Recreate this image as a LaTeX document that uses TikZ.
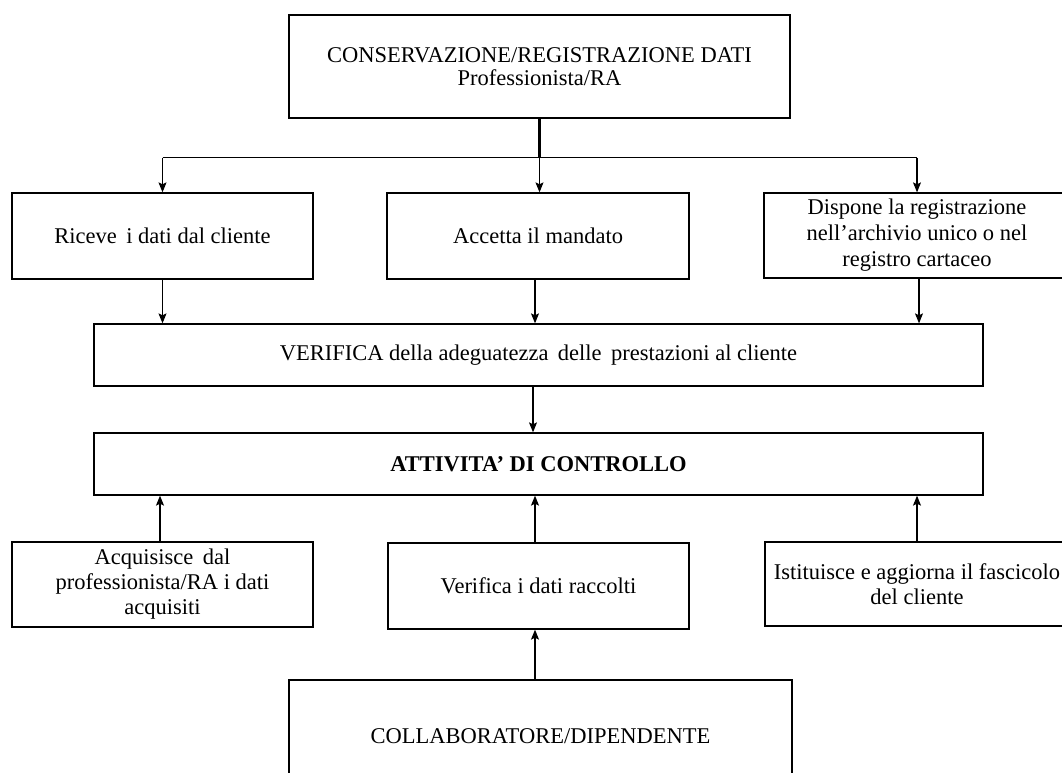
\documentclass[tikz,border=0pt]{standalone}
\usepackage{fontspec}
\setmainfont{Liberation Serif}
\usetikzlibrary{arrows.meta}
\begin{document}
\begin{tikzpicture}[x=1pt,y=-1pt,
  box/.style={draw, line width=1.3pt, inner sep=0pt, align=center,
    font=\fontsize{22.5}{25}\selectfont},
  link/.style={line width=1.1pt, -{Stealth[length=10pt,width=8pt,inset=2pt]}},
  bus/.style={line width=1.1pt}]
\fill[white] (0,0) rectangle (1062,773);
\useasboundingbox (0,0) rectangle (1062,773);
\clip (0,0) rectangle (1062,773);

% header
\node[box, minimum width=501pt, minimum height=103pt,
  font=\fontsize{22.5}{23.5}\selectfont] (top) at (539.5,66.5)
  {CONSERVAZIONE/REGISTRAZIONE DATI\\Professionista/RA};

% first row
\node[box, minimum width=301pt, minimum height=86pt] (riceve) at (162.5,236)
  {Riceve \,i dati dal cliente};
\node[box, minimum width=302pt, minimum height=86pt] (accetta) at (538,236)
  {Accetta il mandato};
\node[box, minimum width=312pt, minimum height=85pt,
  font=\fontsize{22.5}{26}\selectfont] (dispone) at (920,235.5)
  {\hspace*{-6pt}Dispone la registrazione\\\hspace*{-6pt}nell’archivio unico o nel\\\hspace*{-6pt}registro cartaceo};

% central bars
\node[box, minimum width=889pt, minimum height=62pt] (verifica) at (538.5,355)
  {VERIFICA della adeguatezza \,delle \,prestazioni al cliente};
\node[box, minimum width=889pt, minimum height=62pt] (attivita) at (538.5,464)
  {\bfseries ATTIVITA’ DI CONTROLLO};

% second row
\node[box, minimum width=301pt, minimum height=85pt] (acquisisce) at (162.5,584.5)
  {Acquisisce \,dal\\professionista/RA i dati\\acquisiti};
\node[box, minimum width=301pt, minimum height=86pt] (verdati) at (538.5,586)
  {Verifica i dati raccolti};
\node[box, minimum width=312pt, minimum height=84pt] (istituisce) at (921,584)
  {\hspace*{-8pt}Istituisce e aggiorna il fascicolo\\\hspace*{-8pt}del cliente};

% footer
\node[box, minimum width=503pt, minimum height=112pt] (collab) at (540.5,736)
  {COLLABORATORE/DIPENDENTE};

% header to first row
\draw[line width=2.2pt] (top.south) -- ++(0,39) coordinate (j);
\draw[bus] (riceve.north |- j) -- ([xshift=-3pt]dispone.north |- j);
\draw[link] (j) -- (j |- accetta.north);
\draw[link] (riceve.north |- j) -- (riceve.north);
\draw[link] ([xshift=-3pt]dispone.north |- j) -- ([xshift=-3pt]dispone.north);

% first row to verification
\draw[link] (riceve.south) -- (riceve.south |- verifica.north);
\draw[link] ([xshift=-3pt]accetta.south) -- ([xshift=-3pt]accetta.south |- verifica.north);
\draw[link] ([xshift=-1pt]dispone.south) -- ([xshift=-1pt]dispone.south |- verifica.north);

% verification to control
\draw[link] ([xshift=-5.5pt]verifica.south) -- ([xshift=-5.5pt]verifica.south |- attivita.north);

% second row to control
\draw[link] ([xshift=-2.5pt]acquisisce.north) -- ([xshift=-2.5pt]acquisisce.north |- attivita.south);
\draw[link] ([xshift=-3.5pt]verdati.north) -- ([xshift=-3.5pt]verdati.north |- attivita.south);
\draw[link] ([xshift=-4pt]istituisce.north) -- ([xshift=-4pt]istituisce.north |- attivita.south);

% footer to data check
\draw[link] ([xshift=-5.5pt]collab.north) -- ([xshift=-5.5pt]collab.north |- verdati.south);
\end{tikzpicture}
\end{document}
